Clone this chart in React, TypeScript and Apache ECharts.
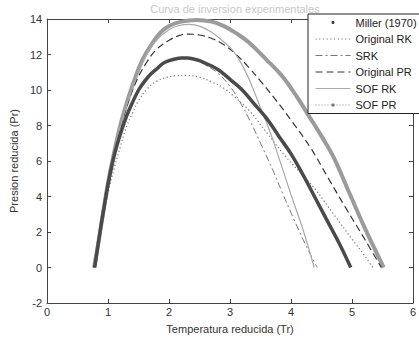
import React, { useEffect, useRef } from "react";
import * as echarts from "echarts";

const FONT = "'Liberation Sans', Arial, sans-serif";

const titleText = "Curva de inversion experimentales";
const xName = "Temperatura reducida (Tr)";
const yName = "Presion reducida (Pr)";
const seriesNames = ["Miller (1970)", "Original RK", "SRK", "Original PR", "SOF RK", "SOF PR"];

const miller: [number, number][] = [
  [0.78, 0], [0.85, 1.6], [0.9, 2.7], [0.95, 3.7], [1.0, 4.7], [1.1, 6.3], [1.2, 7.5], [1.3, 8.5],
  [1.4, 9.3], [1.5, 10.0], [1.6, 10.5], [1.7, 10.9], [1.8, 11.2], [1.9, 11.5], [2.0, 11.65],
  [2.1, 11.75], [2.2, 11.8], [2.3, 11.8], [2.4, 11.75], [2.5, 11.65], [2.6, 11.5], [2.7, 11.35],
  [2.8, 11.15], [2.9, 10.9], [3.0, 10.6], [3.2, 10.0], [3.4, 9.2], [3.6, 8.4], [3.8, 7.4],
  [4.0, 6.4], [4.2, 5.2], [4.4, 3.9], [4.6, 2.6], [4.8, 1.3], [4.98, 0],
];

const originalRK: [number, number][] = [
  [0.77, 0], [0.85, 1.5], [0.9, 2.5], [1.0, 4.2], [1.1, 5.6], [1.2, 6.8], [1.3, 7.9], [1.4, 8.7],
  [1.5, 9.4], [1.65, 10.1], [1.8, 10.5], [1.95, 10.7], [2.1, 10.8], [2.3, 10.82], [2.5, 10.72],
  [2.7, 10.45], [2.9, 10.1], [3.06, 9.65], [3.3, 8.9], [3.6, 7.6], [3.9, 6.3], [4.15, 5.35],
  [4.4, 4.4], [4.7, 3.0], [5.0, 1.6], [5.2, 0.7], [5.34, 0],
];

const srk: [number, number][] = [
  [0.77, 0], [0.85, 1.6], [0.9, 2.7], [1.0, 4.6], [1.1, 6.2], [1.2, 7.5], [1.3, 8.5], [1.4, 9.3],
  [1.5, 10.0], [1.65, 10.7], [1.8, 11.2], [2.0, 11.6], [2.2, 11.8], [2.4, 11.75], [2.6, 11.4],
  [2.8, 10.95], [3.0, 10.2], [3.15, 9.4], [3.33, 8.25], [3.5, 7.0], [3.7, 5.5], [3.86, 4.2],
  [4.05, 2.7], [4.25, 1.2], [4.43, 0],
];

const originalPR: [number, number][] = [
  [0.77, 0], [0.85, 1.6], [0.9, 2.7], [1.0, 4.7], [1.1, 6.4], [1.2, 7.8], [1.3, 9.0], [1.45, 10.4],
  [1.63, 11.55], [1.8, 12.3], [2.0, 12.8], [2.15, 13.05], [2.31, 13.15], [2.5, 13.1], [2.7, 12.9],
  [2.9, 12.55], [3.1, 12.0], [3.3, 11.3], [3.5, 10.5], [3.76, 9.4], [4.0, 8.3], [4.32, 6.75],
  [4.6, 5.1], [4.89, 3.4], [5.2, 1.65], [5.48, 0],
];

const sofRK: [number, number][] = [
  [0.77, 0], [0.85, 1.6], [0.9, 2.7], [1.0, 4.8], [1.1, 6.5], [1.2, 7.9], [1.3, 9.1], [1.42, 10.3],
  [1.55, 11.4], [1.7, 12.4], [1.85, 13.0], [2.0, 13.4], [2.15, 13.62], [2.33, 13.7], [2.5, 13.6],
  [2.7, 13.25], [2.9, 12.7], [3.05, 12.2], [3.2, 11.4], [3.35, 10.3], [3.5, 9.0], [3.65, 7.7],
  [3.8, 6.2], [4.0, 4.1], [4.2, 2.1], [4.38, 0],
];

const sofPR: [number, number][] = [
  [0.77, 0], [0.85, 1.6], [0.9, 2.7], [1.0, 4.8], [1.1, 6.5], [1.2, 8.0], [1.3, 9.2], [1.42, 10.45],
  [1.55, 11.6], [1.7, 12.5], [1.85, 13.2], [2.0, 13.6], [2.2, 13.85], [2.45, 13.95], [2.7, 13.85],
  [2.9, 13.6], [3.1, 13.2], [3.3, 12.7], [3.6, 11.7], [3.85, 10.8], [4.1, 9.6], [4.3, 8.5],
  [4.5, 7.4], [4.7, 6.2], [4.95, 4.25], [5.2, 2.3], [5.4, 0.85], [5.52, 0],
];

const axisColor = "#444";
const labelColor = "#333";

function makeXAxis(position: "bottom" | "top", withLabels: boolean) {
  return {
    type: "value",
    position,
    min: 0,
    max: 6,
    interval: 1,
    axisLine: { show: true, onZero: false, lineStyle: { color: axisColor, width: 1 } },
    axisTick: { show: true, inside: true, length: 4, lineStyle: { color: axisColor } },
    axisLabel: { show: withLabels, color: labelColor, fontSize: 11, fontFamily: FONT, margin: 3 },
    splitLine: { show: false },
    name: withLabels ? xName : "",
    nameLocation: "middle",
    nameGap: 20,
    nameTextStyle: { color: labelColor, fontSize: 11, fontFamily: FONT },
  };
}

function makeYAxis(position: "left" | "right", withLabels: boolean) {
  return {
    type: "value",
    position,
    min: -2,
    max: 14,
    interval: 2,
    axisLine: { show: true, onZero: false, lineStyle: { color: axisColor, width: 1 } },
    axisTick: { show: true, inside: true, length: 4, lineStyle: { color: axisColor } },
    axisLabel: { show: withLabels, color: labelColor, fontSize: 11, fontFamily: FONT, margin: 5 },
    splitLine: { show: false },
    name: withLabels ? yName : "",
    nameLocation: "middle",
    nameGap: 23,
    nameTextStyle: { color: labelColor, fontSize: 11, fontFamily: FONT },
  };
}

function lineSeries(name: string, data: [number, number][], lineStyle: any, z: number) {
  return {
    type: "line",
    name,
    data,
    symbol: "none",
    smooth: 0.4,
    silent: true,
    z,
    itemStyle: { color: lineStyle.color },
    lineStyle,
  };
}

export default function App() {
  const ref = useRef<HTMLDivElement>(null);
  useEffect(() => {
    if (!ref.current) return;
    const chart = echarts.init(ref.current, undefined, { renderer: "svg" });
    chart.setOption({
      animation: false,
      backgroundColor: "#fff",
      title: {
        text: titleText,
        left: 230,
        top: -2,
        textAlign: "center",
        textStyle: { fontSize: 11, fontWeight: "normal", color: "#c8c8c8", fontFamily: FONT },
      },
      grid: { left: 44, right: 3, top: 19, bottom: 29, containLabel: false },
      xAxis: [makeXAxis("bottom", true), makeXAxis("top", false)],
      yAxis: [makeYAxis("left", true), makeYAxis("right", false)],
      legend: {
        orient: "vertical",
        left: 308,
        top: 14,
        itemWidth: 35,
        itemHeight: 4,
        itemGap: 5.5,
        padding: [3, 20, 3, 7],
        borderColor: "#222",
        borderWidth: 1,
        backgroundColor: "#fff",
        selectedMode: false,
        textStyle: { fontSize: 11, color: "#222", fontFamily: FONT },
        lineStyle: { width: 1 },
        data: [
          { name: seriesNames[0], lineStyle: { opacity: 0 }, itemStyle: { color: "#444" } },
          { name: seriesNames[1], itemStyle: { opacity: 0 } },
          { name: seriesNames[2], itemStyle: { opacity: 0 } },
          { name: seriesNames[3], itemStyle: { opacity: 0 } },
          { name: seriesNames[4], itemStyle: { opacity: 0 } },
          { name: seriesNames[5], lineStyle: { type: [1, 2], width: 1, color: "#888" }, itemStyle: { color: "#777" } },
        ],
        z: 20,
      },
      series: [
        lineSeries(seriesNames[0], miller, { color: "#4a4a4a", width: 3.5 }, 6),
        lineSeries(seriesNames[1], originalRK, { color: "#777", width: 1.2, type: [1.2, 2.5] }, 5),
        lineSeries(seriesNames[2], srk, { color: "#777", width: 1, type: [7, 3, 2, 3] }, 5),
        lineSeries(seriesNames[3], originalPR, { color: "#333", width: 1.2, type: [7, 4] }, 5),
        lineSeries(seriesNames[4], sofRK, { color: "#aaa", width: 1.2 }, 5),
        lineSeries(seriesNames[5], sofPR, { color: "#9b9b9b", width: 4 }, 4),
      ],
    });
    return () => chart.dispose();
  }, []);
  return (
    <div
      ref={ref}
      style={{ position: "absolute", left: 0, top: 0, width: 419, height: 339, background: "#fff" }}
    />
  );
}
